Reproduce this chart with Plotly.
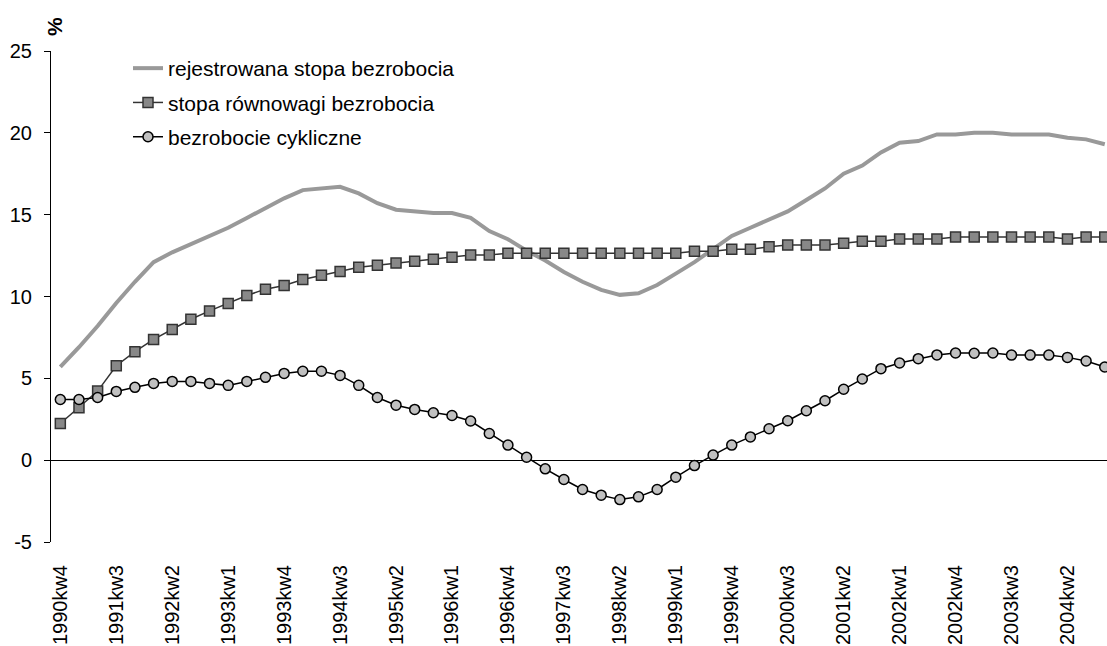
import plotly.graph_objects as go

# Quarterly periods 1990kw4 .. 2004kw4
quarters = [f"{y}kw{q}" for y in range(1990, 2005) for q in range(1, 5)]
quarters = quarters[quarters.index("1990kw4"):]

tick_labels = ["1990kw4", "1991kw3", "1992kw2", "1993kw1", "1993kw4", "1994kw3",
               "1995kw2", "1996kw1", "1996kw4", "1997kw3", "1998kw2", "1999kw1",
               "1999kw4", "2000kw3", "2001kw2", "2002kw1", "2002kw4", "2003kw3",
               "2004kw2"]

y_ticks = [-5, 0, 5, 10, 15, 20, 25]
y_tick_text = ["-5", "0", "5", "10", "15", "20", "25"]

# rejestrowana stopa bezrobocia (%)
registered = [5.7, 6.9, 8.2, 9.6, 10.9, 12.1, 12.7, 13.2, 13.7, 14.2,
              14.8, 15.4, 16.0, 16.5, 16.6, 16.7, 16.3, 15.7, 15.3, 15.2,
              15.1, 15.1, 14.8, 14.0, 13.5, 12.8, 12.2, 11.5, 10.9, 10.4,
              10.1, 10.2, 10.7, 11.4, 12.1, 12.9, 13.7, 14.2, 14.7, 15.2,
              15.9, 16.6, 17.5, 18.0, 18.8, 19.4, 19.5, 19.9, 19.9, 20.0,
              20.0, 19.9, 19.9, 19.9, 19.7, 19.6, 19.3]

# stopa równowagi bezrobocia (%)
equilibrium = [2.24, 3.20, 4.22, 5.77, 6.63, 7.38, 7.99, 8.61, 9.12, 9.57,
               10.06, 10.45, 10.67, 11.04, 11.30, 11.53, 11.79, 11.91, 12.04, 12.16,
               12.28, 12.40, 12.53, 12.53, 12.65, 12.65, 12.65, 12.65, 12.65, 12.65,
               12.65, 12.65, 12.65, 12.65, 12.77, 12.77, 12.89, 12.89, 13.04, 13.14,
               13.14, 13.14, 13.26, 13.38, 13.38, 13.51, 13.51, 13.51, 13.63, 13.63,
               13.63, 13.63, 13.63, 13.63, 13.51, 13.63, 13.63]

# bezrobocie cykliczne (%)
cyclical = [3.71, 3.71, 3.83, 4.20, 4.45, 4.69, 4.81, 4.81, 4.69, 4.57,
            4.81, 5.06, 5.30, 5.43, 5.43, 5.18, 4.57, 3.83, 3.36, 3.10,
            2.90, 2.73, 2.39, 1.63, 0.92, 0.18, -0.53, -1.18, -1.79, -2.14,
            -2.41, -2.24, -1.79, -1.04, -0.33, 0.31, 0.92, 1.42, 1.92, 2.41,
            3.02, 3.63, 4.33, 4.96, 5.59, 5.94, 6.20, 6.43, 6.55, 6.53,
            6.55, 6.42, 6.42, 6.42, 6.28, 6.06, 5.69]

FONT = "Liberation Sans, Arial, Helvetica, sans-serif"

# plot area in pixels: left 51, top 51, height 491
PLOT_L, PLOT_T, PLOT_W, PLOT_H = 51, 51, 1056, 491

fig = go.Figure()
fig.add_trace(go.Scatter(
    x=quarters, y=registered, mode="lines",
    name="rejestrowana stopa bezrobocia", legendgroup="a",
    line=dict(color="#999999", width=4),
))
fig.add_trace(go.Scatter(
    x=quarters, y=equilibrium, mode="lines+markers",
    name="stopa równowagi bezrobocia", legendgroup="b",
    line=dict(color="#333333", width=1.5),
    marker=dict(symbol="square", size=10, color="#888888",
                line=dict(color="#333333", width=1.5)),
))
fig.add_trace(go.Scatter(
    x=quarters, y=cyclical, mode="lines+markers",
    name="bezrobocie cykliczne", legendgroup="c",
    line=dict(color="#000000", width=1.5),
    marker=dict(symbol="circle", size=10, color="#c0c0c0",
                line=dict(color="#000000", width=1.5)),
))

fig.update_layout(
    width=1107, height=646,
    margin=dict(l=PLOT_L, r=0, t=PLOT_T, b=646 - PLOT_T - PLOT_H, autoexpand=False),
    paper_bgcolor="white", plot_bgcolor="white",
    font=dict(family=FONT, size=21, color="black"),
    showlegend=True,
    legend=dict(
        xref="paper", yref="paper",
        x=(128 - PLOT_L) / PLOT_W, y=1.0 + 3 / PLOT_H, xanchor="left", yanchor="top",
        bgcolor="rgba(0,0,0,0)", borderwidth=0,
        traceorder="grouped", tracegroupgap=4,
        font=dict(family=FONT, size=21, color="black"),
    ),
    xaxis=dict(
        type="category", range=[-0.5, 56.12],
        tickmode="array", tickvals=tick_labels, ticktext=tick_labels,
        tickangle=-90, ticks="", showgrid=False, showline=False,
        zeroline=False, ticklabelstandoff=18,
        tickfont=dict(family=FONT, size=20, color="black"),
    ),
    yaxis=dict(
        range=[-5, 25], tickmode="array", tickvals=y_ticks, ticktext=y_tick_text,
        showgrid=False, showline=True, linecolor="black", linewidth=1,
        ticks="outside", ticklen=6, tickcolor="black", tickwidth=1,
        zeroline=True, zerolinecolor="black", zerolinewidth=1,
        ticklabelstandoff=8,
        tickfont=dict(family=FONT, size=20, color="black"),
    ),
    annotations=[dict(
        text="<b>%</b>", xref="paper", yref="paper",
        x=4 / PLOT_W, y=(PLOT_T + PLOT_H - 27) / PLOT_H,
        xanchor="center", yanchor="middle",
        textangle=-90, showarrow=False,
        font=dict(family=FONT, size=21, color="black"),
    )],
)

fig.write_html("out.html")
